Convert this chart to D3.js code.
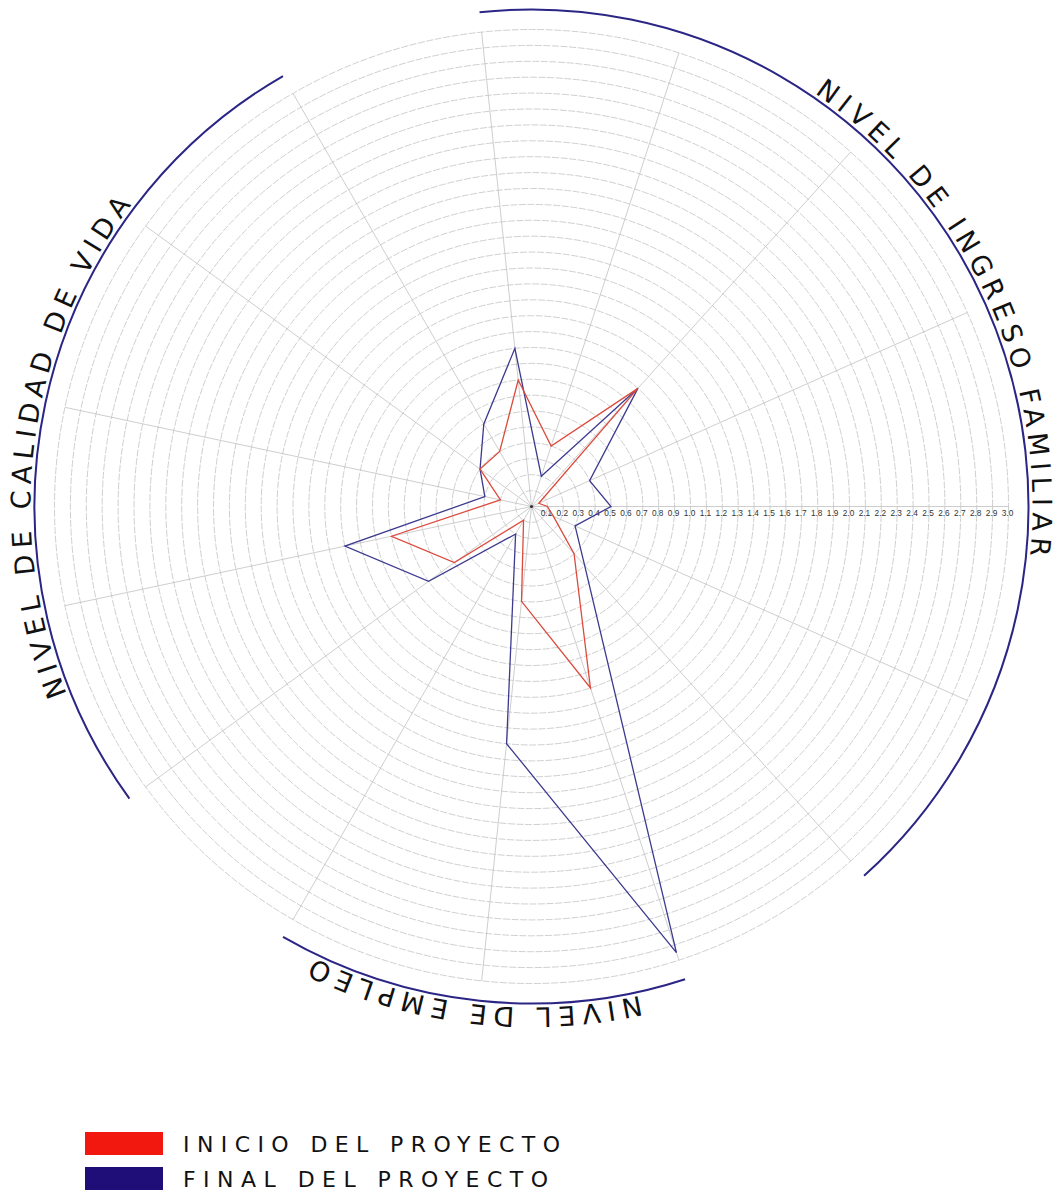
<!DOCTYPE html>
<html><head><meta charset="utf-8">
<script src="https://cdn.jsdelivr.net/npm/d3@7/dist/d3.min.js"></script>
<style>body{margin:0;background:#fff}svg{display:block}</style>
</head><body>
<svg id="chart" width="1057" height="1195"></svg>
<script>
// ---- data ----
const axes = ["I1","I2","I3","I4","I5","I6","I7","E1","E2","E3","C1","C2","C3","C4","C5"];
const tickLabels = ["0.1","0.2","0.3","0.4","0.5","0.6","0.7","0.8","0.9","1.0",
  "1.1","1.2","1.3","1.4","1.5","1.6","1.7","1.8","1.9","2.0",
  "2.1","2.2","2.3","2.4","2.5","2.6","2.7","2.8","2.9","3.0"];
const inicio = [0.8, 0.4, 1.0, 0.05, 0.1, 0.15, 0.4, 1.2, 0.6, 0.1, 0.6, 0.9, 0.2, 0.4, 0.4];
const finalP = [1.0, 0.2, 1.0, 0.4, 0.5, 0.3, 0.5, 2.95, 1.5, 0.2, 0.8, 1.2, 0.3, 0.4, 0.6];
const seriesNames = ["INICIO DEL PROYECTO", "FINAL DEL PROYECTO"];
const sectionNames = ["NIVEL DE INGRESO FAMILIAR", "NIVEL DE EMPLEO", "NIVEL DE CALIDAD DE VIDA"];
const sectionFirstAxis = [0, 7, 10];
const sectionLastAxis = [6, 9, 14];

// ---- layout ----
const W = 1057, H = 1195;
const cx = 531.5, cy = 506.5, R = 477;
const deg = Math.PI / 180;
const seriesColors = ["#dc4a3c", "#3d3a8e"];
const legendColors = ["#f2170f", "#1f0e78"];
const arcColor = "#2b2585";
const titleSpans = [[34.4, 95.6], [167.5, 205.7], [248.0, 307.0]];

const svg = d3.select("#chart");
svg.append("rect").attr("width", W).attr("height", H).attr("fill", "#fff");
const g = svg.append("g").attr("transform", `translate(${cx},${cy})`);

const rScale = d3.scaleLinear().domain([0, 3]).range([0, R]);
const aScale = d3.scaleLinear().domain([0, axes.length]).range([-6 * deg, 354 * deg]);
const ringValues = tickLabels.map(Number);

// rings
g.append("g").selectAll("circle").data(ringValues).join("circle")
  .attr("r", d => rScale(d)).attr("fill", "none")
  .attr("stroke", "#c9c9c9").attr("stroke-width", 0.9).attr("stroke-dasharray", "7,1.6");

// spokes
g.append("g").selectAll("line").data(axes).join("line")
  .attr("x1", 0).attr("y1", 0)
  .attr("x2", (d, i) => rScale(3) * Math.sin(aScale(i)))
  .attr("y2", (d, i) => -rScale(3) * Math.cos(aScale(i)))
  .attr("stroke", "#c2c2c2").attr("stroke-width", 0.8);

// tick labels along the horizontal (90°) axis
g.append("g").selectAll("text").data(tickLabels).join("text")
  .attr("x", d => rScale(+d) - 1).attr("y", 9)
  .attr("text-anchor", "middle")
  .attr("font-family", "Liberation Sans, Arial, sans-serif")
  .attr("font-size", 8.3).attr("fill", "#333")
  .text(d => d);

// series lines
const line = d3.lineRadial()
  .angle((d, i) => aScale(i)).radius(d => rScale(d))
  .curve(d3.curveLinearClosed);
[finalP, inicio].forEach((vals, k) => {
  const idx = k === 0 ? 1 : 0;
  g.append("path").datum(vals).attr("d", line)
    .attr("fill", "none").attr("stroke", seriesColors[idx])
    .attr("stroke-width", 1.3).attr("stroke-linejoin", "miter");
});

// center dot
g.append("circle").attr("r", 1.6).attr("fill", "#333");

// section arcs
const arcR = 497;
sectionNames.forEach((name, s) => {
  const a0 = aScale(sectionFirstAxis[s]), a1 = aScale(sectionLastAxis[s]);
  const p = d3.path();
  p.arc(0, 0, arcR, a0 - Math.PI / 2, a1 - Math.PI / 2, false);
  g.append("path").attr("d", p.toString()).attr("fill", "none")
    .attr("stroke", arcColor).attr("stroke-width", 2);
});

// section titles on circular paths
const textR = 501;
const defs = svg.append("defs");
sectionNames.forEach((name, s) => {
  const [d0, d1] = titleSpans[s];
  const st = d0 * deg - Math.PI / 2;
  const p = d3.path();
  p.arc(cx, cy, textR, st, st + 1.98 * Math.PI, false);
  defs.append("path").attr("id", "tp" + s).attr("d", p.toString());
  const t = svg.append("text")
    .attr("font-family", "DejaVu Sans, Verdana, sans-serif")
    .attr("font-size", 27).attr("fill", "#111");
  t.append("textPath").attr("href", "#tp" + s).text(name);
  const target = (d1 - d0) * deg * textR;
  const L0 = t.node().getComputedTextLength();
  t.attr("letter-spacing", (target - L0) / (name.length - 1));
});

// legend
const legY = [1132, 1167];
seriesNames.forEach((name, k) => {
  svg.append("rect").attr("x", 85).attr("y", legY[k]).attr("width", 78).attr("height", 23)
    .attr("fill", legendColors[k]);
  const t = svg.append("text").attr("x", 183).attr("y", legY[k] + 20)
    .attr("font-family", "DejaVu Sans, Verdana, sans-serif")
    .attr("font-size", 22).attr("fill", "#111").text(name);
  const target = (k === 0 ? 560 : 548) - 183;
  const L0 = t.node().getComputedTextLength();
  t.attr("letter-spacing", (target - L0) / (name.length - 1));
});
</script>
</body></html>
